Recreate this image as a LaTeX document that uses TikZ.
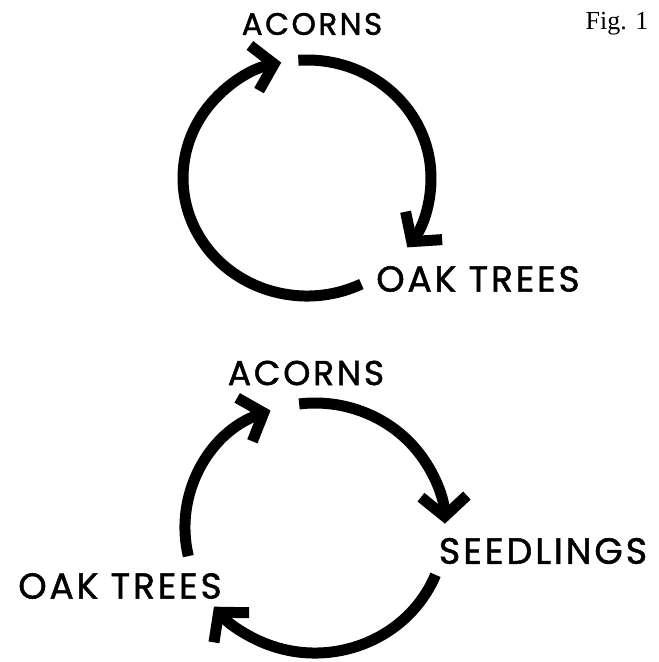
\documentclass[tikz,border=0pt]{standalone}
\usepackage{fontspec}
\usetikzlibrary{arrows.meta,calc}
\newfontfamily\hand[LetterSpace=8, FakeBold=1.4]{Poppins}
\newfontfamily\figfont{Liberation Serif}

\tikzset{
	cyc/.style={line width=11pt, -{Straight Barb[length=20pt,width=46pt]}},
	lab/.style={font=\hand\fontsize{#1}{#1}\selectfont, inner sep=0pt},
	lab/.default=34,
}

\begin{document}
\begin{tikzpicture}[x=1pt,y=1pt]
	\useasboundingbox (0,0) rectangle (659,-662);
	% upper cycle
	\coordinate (c1) at (307,-178);
	\node[lab=31] (acorns1) at (312,-24) {ACORNS};
	\node[lab=36] (oak1) at (478,-279) {OAK TREES};
	\node[font=\figfont\fontsize{26}{28}\selectfont, inner sep=0pt] (fig) at (617,-24) {Fig. 1};
	\coordinate (up1) at ($(c1)+(94:124 and 118)$);
	\coordinate (up2) at ($(c1)+(-64:124 and 118)$);
	\draw[cyc] (up1) arc[start angle=94, end angle=-36, x radius=124, y radius=118];
	\draw[cyc] (up2) arc[start angle=-64, end angle=-258, x radius=124, y radius=118];
	% lower cycle
	\coordinate (c2) at (315,-528);
	\node[lab=34.5] (acorns2) at (306,-373) {ACORNS};
	\node[lab=36.5] (seed2) at (543,-551) {SEEDLINGS};
	\node[lab=36] (oak2) at (120,-586) {OAK TREES};
	\coordinate (lo1) at ($(c2)+(97:130 and 125)$);
	\coordinate (lo2) at ($(c2)+(-22:130 and 125)$);
	\coordinate (lo3) at ($(c2)+(193:130 and 125)$);
	\draw[cyc] (lo1) arc[start angle=97, end angle=2, x radius=130, y radius=125];
	\draw[cyc] (lo2) arc[start angle=-22, end angle=-141, x radius=130, y radius=125];
	\draw[cyc] (lo3) arc[start angle=193, end angle=110, x radius=130, y radius=125];
\end{tikzpicture}
\end{document}
